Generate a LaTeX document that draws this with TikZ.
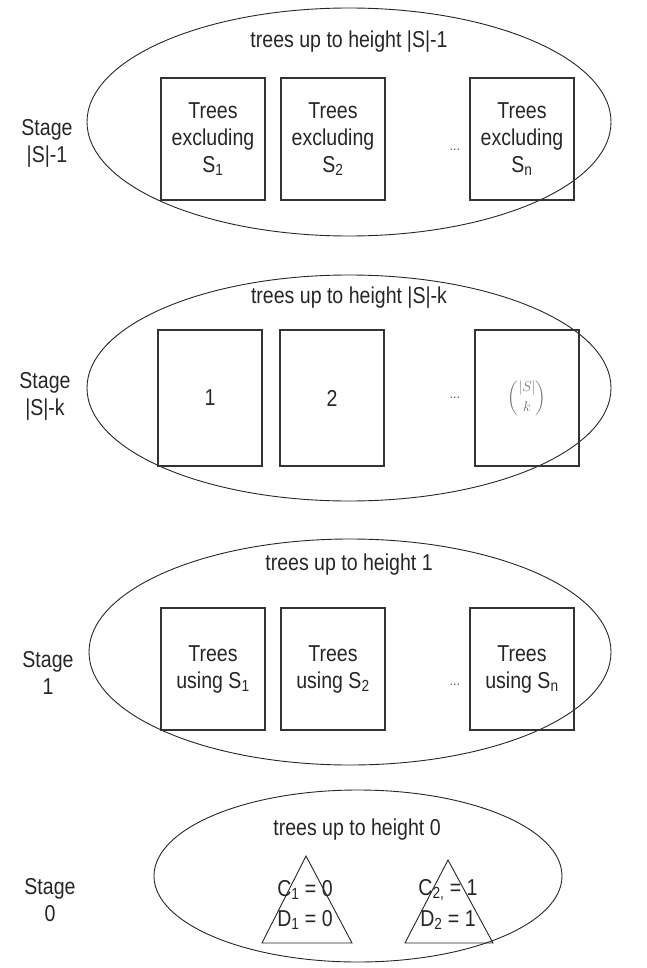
\documentclass[tikz,border=0pt]{standalone}
\usepackage{amsmath}
\usepackage{fontspec}
\setmainfont{Liberation Sans}[FakeStretch=0.85]
\usetikzlibrary{shapes.geometric}
\begin{document}
\begin{tikzpicture}[x=1pt,y=-1pt,
  txt/.style={font=\fontsize{23}{27}\selectfont, align=center, inner sep=0pt, text=black!85},
  stagelbl/.style={txt},
  title/.style={txt},
  oval/.style={draw=black!85, line width=0.9pt, ellipse, inner sep=0pt},
  setbox/.style={draw=black!80, line width=1.3pt, minimum width=104pt, minimum height=122pt, inner sep=0pt, txt},
  dots/.style={font=\fontsize{13}{13}\selectfont, inner sep=0pt, text=black!80},
  tri/.style={draw=black!85, line width=0.9pt}]
\useasboundingbox (0,0) rectangle (646,968);
% ---------- Stage |S|-1
\node[oval, minimum width=524pt, minimum height=228pt] (e1) at (349,122) {};
\node[title] (t1) at (349,42) {trees up to height |S|-1};
\node[stagelbl] (l1) at (47,143) {Stage\\|S|-1};
\node[setbox] (b11) at (213,139) {Trees\\excluding\\S\textsubscript{1}};
\node[setbox] (b12) at (333,139) {Trees\\excluding\\S\textsubscript{2}};
\node[dots] (d1) at (455,150) {\ldots};
\node[setbox] (b13) at (522,139) {Trees\\excluding\\S\textsubscript{n}};
% ---------- Stage |S|-k
\node[oval, minimum width=524pt, minimum height=226pt] (e2) at (349,388) {};
\node[title] (t2) at (349,298) {trees up to height |S|-k};
\node[stagelbl] (l2) at (45,396) {Stage\\|S|-k};
\node[setbox, minimum height=136pt] (b21) at (210,398) {1};
\node[setbox, minimum height=136pt] (b22) at (332,398) {2};
\node[dots] (d2) at (455,398) {\ldots};
\node[setbox, minimum height=136pt] (b23) at (527,398) {\fontsize{14}{14}\selectfont\color{black!55}$\displaystyle\binom{|S|}{k}$};
% ---------- Stage 1
\node[oval, minimum width=522pt, minimum height=226pt] (e3) at (350,652) {};
\node[title] (t3) at (349,565) {trees up to height 1};
\node[stagelbl] (l3) at (48,673) {Stage\\1};
\node[setbox] (b31) at (213,669) {Trees\\using S\textsubscript{1}};
\node[setbox] (b32) at (333,669) {Trees\\using S\textsubscript{2}};
\node[dots] (d3) at (455,685) {\ldots};
\node[setbox] (b33) at (522,669) {Trees\\using S\textsubscript{n}};
% ---------- Stage 0
\node[oval, minimum width=408pt, minimum height=172pt] (e4) at (358,876) {};
\node[title] (t4) at (357,830) {trees up to height 0};
\node[stagelbl] (l4) at (50,900) {Stage\\0};
\coordinate (a1) at (306,856);
\coordinate (p1) at (262,943);
\coordinate (q1) at (352,943);
\draw[tri] (a1) -- (q1) -- (p1) -- cycle;
\coordinate (a2) at (448,860);
\coordinate (p2) at (405,943);
\coordinate (q2) at (493,943);
\draw[tri] (a2) -- (q2) -- (p2) -- cycle;
\node[txt] (c1) at (305,890) {C\textsubscript{1} = 0};
\node[txt] (dd1) at (305,920) {D\textsubscript{1} = 0};
\node[txt] (c2) at (448,890) {C\textsubscript{2,} = 1};
\node[txt] (dd2) at (448,920) {D\textsubscript{2} = 1};
\end{tikzpicture}
\end{document}
